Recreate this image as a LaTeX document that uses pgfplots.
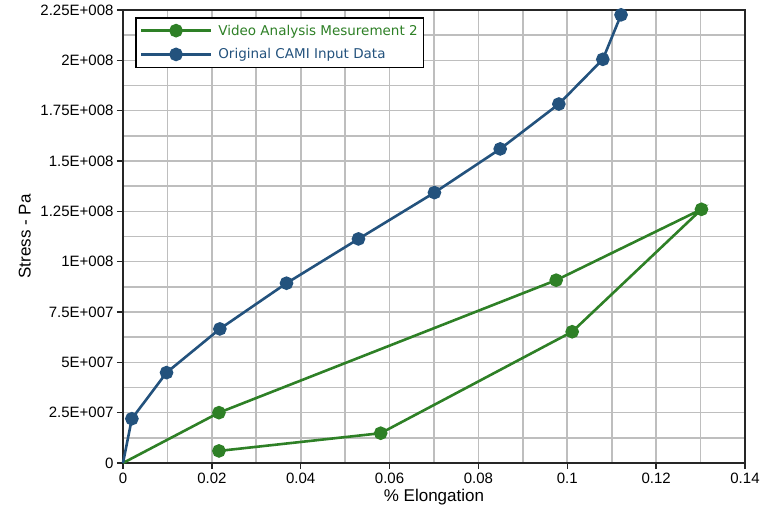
\documentclass[border=0pt]{standalone}
\usepackage{pgfplots}
\pgfplotsset{compat=1.18}
\usepackage{fontspec}
\setmainfont{Liberation Sans}
\newfontfamily\legfont{DejaVu Sans}
\definecolor{vidgreen}{RGB}{46,128,38}
\definecolor{camiblue}{RGB}{35,82,125}
\definecolor{gridgray}{RGB}{190,190,190}

\begin{document}
\begin{tikzpicture}
\begin{axis}[
  scale only axis, width=622pt, height=453pt,
  xmin=0, xmax=0.14, ymin=0, ymax=2.25e8,
  xtick={0,0.02,0.04,0.06,0.08,0.1,0.12,0.14},
  xticklabels={0,0.02,0.04,0.06,0.08,0.1,0.12,0.14},
  minor xtick={0.01,0.03,0.05,0.07,0.09,0.11,0.13},
  ytick={0,2.5e7,5e7,7.5e7,1e8,1.25e8,1.5e8,1.75e8,2e8,2.25e8},
  yticklabels={0,2.5E+007,5E+007,7.5E+007,1E+008,1.25E+008,1.5E+008,1.75E+008,2E+008,2.25E+008},
  minor ytick={1.25e7,3.75e7,6.25e7,8.75e7,1.125e8,1.375e8,1.625e8,1.875e8,2.125e8},
  scaled x ticks=false, scaled y ticks=false,
  grid=both,
  major grid style={draw=gridgray, line width=1.6pt},
  minor grid style={draw=gridgray, line width=1.6pt},
  tick align=outside, major tick length=6pt, minor tick length=0pt,
  xtick pos=bottom, ytick pos=left,
  major tick style={line width=1.5pt, black!85},
  axis line style={line width=1.8pt, black!85},
  tick label style={font=\fontsize{15}{17}\selectfont},
  xlabel={\% Elongation}, ylabel={Stress - Pa},
  label style={font=\fontsize{17}{19}\selectfont},
  xlabel style={at={(axis description cs:0.5,-0.075)}, anchor=center},
  ylabel style={at={(axis description cs:-0.158,0.5)}, anchor=center},
  clip=false,
  legend style={at={(axis description cs:0.0193,0.9845)}, anchor=north west,
    draw=black, line width=1.5pt, font=\legfont\fontsize{13.5}{15}\selectfont,
    row sep=8pt, inner xsep=4pt, inner ysep=5pt,
    /tikz/every odd column/.style={column sep=4pt}},
  legend cell align=left,
  legend image code/.code={
    \draw[#1, mark indices={2}] plot coordinates {(0pt,0pt) (35pt,0pt) (70pt,0pt)};},
]
\addplot[vidgreen, line width=2.6pt, mark=*, mark size=5.5pt,
  mark indices={2,3,4,5,6,7}] coordinates {
  (0,0) (0.0216,2.5e7) (0.0975,9.08e7) (0.1302,1.26e8)
  (0.1011,6.52e7) (0.058,1.48e7) (0.0216,0.6e7)
};
\addlegendentry{\textcolor{vidgreen}{Video Analysis Mesurement 2}}
\addplot[camiblue, line width=2.6pt, mark=*, mark size=5.5pt,
  mark indices={2,3,4,5,6,7,8,9,10,11,12}] coordinates {
  (0,0) (0.002,2.2e7) (0.0098,4.49e7) (0.0218,6.66e7) (0.0368,8.93e7)
  (0.053,1.113e8) (0.0701,1.343e8) (0.0849,1.56e8) (0.0981,1.783e8)
  (0.108,2.005e8) (0.1121,2.226e8)
};
\addlegendentry{\textcolor{camiblue}{Original CAMI Input Data}}
\end{axis}
\pgfresetboundingbox
\useasboundingbox (-123pt,-44pt) rectangle (641pt,463pt);
\end{tikzpicture}
\end{document}
